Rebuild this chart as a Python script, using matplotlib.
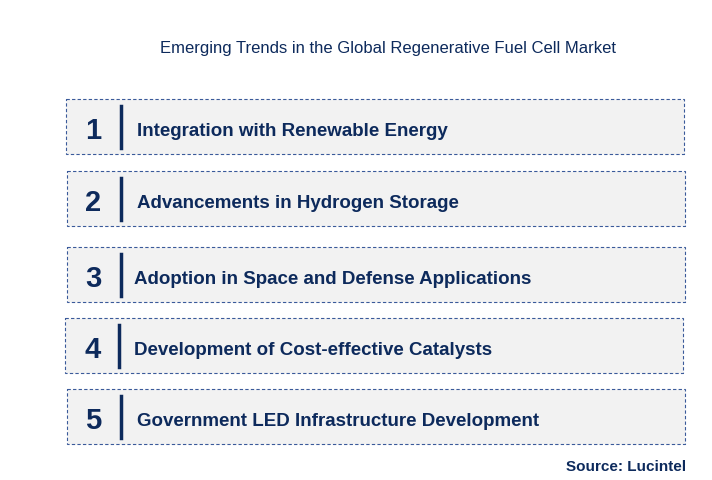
import matplotlib
matplotlib.use("Agg")
import matplotlib.pyplot as plt
from matplotlib.patches import Rectangle

title = "Emerging Trends in the Global Regenerative Fuel Cell Market"
numbers = ["1", "2", "3", "4", "5"]
trends = [
    "Integration with Renewable Energy",
    "Advancements in Hydrogen Storage",
    "Adoption in Space and Defense Applications",
    "Development of Cost-effective Catalysts",
    "Government LED Infrastructure Development",
]
source = "Source: Lucintel"

# layout (pixels)
box_x = [66, 67, 67, 65, 67]
box_y = [100, 172, 248, 319, 390]
box_w, box_h = 618, 55
bar_x = [121, 121, 121, 119, 121]
text_x = [137, 137, 134, 134, 137]

navy = "#0d2a5c"
fig = plt.figure(figsize=(7.12, 4.81), dpi=100)
ax = fig.add_axes([0, 0, 1, 1])
ax.set_xlim(0, 712)
ax.set_ylim(481, 0)
ax.axis("off")

ax.text(388, 49, title, ha="center", va="center", fontsize=12, color=navy,
        family="Liberation Sans")
for i in range(len(trends)):
    ax.add_patch(Rectangle((box_x[i], box_y[i]), box_w, box_h, facecolor="#f2f2f2",
                           edgecolor="#3a5a9a", linestyle=(0, (3, 2)), linewidth=0.8))
    cy = box_y[i] + box_h / 2
    ax.text(93, cy + 4, numbers[i], ha="center", va="center", fontsize=21,
            fontweight="bold", color=navy, family="Liberation Sans")
    ax.plot([bar_x[i], bar_x[i]], [cy - 21, cy + 21], color=navy, linewidth=2.5)
    ax.text(text_x[i], cy + 4, trends[i], ha="left", va="center", fontsize=13.5,
            fontweight="bold", color=navy, family="Liberation Sans")
ax.text(686, 467, source, ha="right", va="center", fontsize=11,
        fontweight="bold", color=navy, family="Liberation Sans")
fig.savefig("out.png", dpi=100, facecolor="white")
